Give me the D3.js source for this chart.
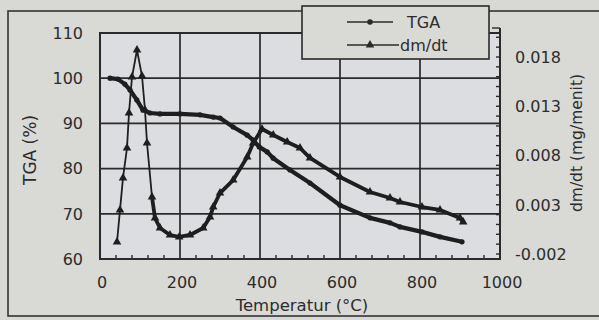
<!DOCTYPE html>
<html><head><meta charset="utf-8">
<script src="https://cdnjs.cloudflare.com/ajax/libs/d3/7.8.5/d3.min.js"></script>
<style>
html,body{margin:0;padding:0;background:#d8d8d5;}
svg{display:block;}
text{font-family:"DejaVu Sans",sans-serif;fill:#2c2c2c;}
</style></head>
<body>
<svg id="c" width="599" height="320"></svg>
<script>
// ---- data ----
const tgaTemp = [25,45,62,75,92,107,125,150,200,250,283,300,333,368,383,398,418,433,475,525,600,675,725,750,805,850,905];
const tgaVal  = [100,99.8,98.7,97.4,95.2,93,92.3,92.1,92.1,91.9,91.4,91.2,89.2,87.4,86.3,84.8,83.7,82.3,79.7,76.8,71.9,69.1,68.0,67.1,66.0,64.9,63.8];
const dmTemp = [42.5,50,57.5,67.5,72.5,80,92.5,105,112.5,117.5,130,137.5,150,175,198,225,258,275,283,300,333,368,383,405,433,468,500,525,600,675,725,750,805,850,900,908];
const dmVal  = [-0.00078,0.00247,0.00572,0.00876,0.01231,0.01597,0.01871,0.01607,0.01262,0.00927,0.00379,0.00165,0.00064,-0.00007,-0.00027,-0.00007,0.00064,0.00176,0.00277,0.00419,0.00551,0.00785,0.00927,0.01069,0.01008,0.00937,0.00876,0.00775,0.00582,0.00429,0.00369,0.00328,0.00277,0.00247,0.00165,0.00125];
const xTicks = [0,200,400,600,800,1000];
const xTickLabels = ["0","200","400","600","800","1000"];
const yLeftTicks = [60,70,80,90,100,110];
const yLeftLabels = ["60","70","80","90","100","110"];
const yRightTicks = [-0.002,0.003,0.008,0.013,0.018];
const yRightLabels = ["-0.002","0.003","0.008","0.013","0.018"];
const seriesNames = ["TGA","dm/dt"];

const svg = d3.select("#c");
const ink = "#2a2a2a";
const x = d3.scaleLinear([0,1000],[100,500]);
const yL = d3.scaleLinear([60,110],[259,33]);
const yR = d3.scaleLinear([-0.002,0.018],[254,57]);

// outer frame
svg.append("rect").attr("x",8).attr("y",11).attr("width",640).attr("height",305)
  .attr("fill","#d9d9d6").attr("stroke","#333").attr("stroke-width",1.6);

// plot area
svg.append("rect").attr("x",x(0)).attr("y",yL(110)).attr("width",x(1000)-x(0)).attr("height",yL(60)-yL(110))
  .attr("fill","#dcdde0");

// gridlines
const g = svg.append("g").attr("stroke",ink).attr("stroke-width",1.7);
xTicks.filter(t=>t>0&&t<1000).forEach(t=>g.append("line").attr("x1",x(t)).attr("x2",x(t)).attr("y1",yL(110)).attr("y2",yL(60)));
yLeftTicks.filter(t=>t>60&&t<110).forEach(t=>g.append("line").attr("x1",x(0)).attr("x2",x(1000)).attr("y1",yL(t)).attr("y2",yL(t)));

// minor ticks bottom (inward)
const mt = svg.append("g").attr("stroke",ink).attr("stroke-width",1.4);
d3.range(40,1000,40).filter(t=>t%200!==0).forEach(t=>mt.append("line").attr("x1",x(t)).attr("x2",x(t)).attr("y1",yL(60)).attr("y2",yL(60)-4));
// minor ticks right (inward)
d3.range(-2,21,1).map(v=>v/1000).forEach(v=>{ if(yR(v)>yL(110)-4) mt.append("line").attr("x1",x(1000)).attr("x2",x(1000)-4).attr("y1",yR(v)).attr("y2",yR(v)); });

// plot border
svg.append("rect").attr("x",x(0)).attr("y",yL(110)).attr("width",x(1000)-x(0)).attr("height",yL(60)-yL(110))
  .attr("fill","none").attr("stroke",ink).attr("stroke-width",2);
svg.append("line").attr("x1",x(1000)).attr("x2",x(1000)).attr("y1",28).attr("y2",yL(60)).attr("stroke",ink).attr("stroke-width",2);
svg.append("line").attr("x1",x(1000)-8).attr("x2",x(1000)).attr("y1",28).attr("y2",28).attr("stroke",ink).attr("stroke-width",1.4);

// axes labels
yLeftTicks.forEach((t,i)=>svg.append("text").attr("x",83).attr("y",yL(t)).attr("dy","0.36em").attr("text-anchor","end").attr("font-size",16).text(yLeftLabels[i]));
xTicks.forEach((t,i)=>svg.append("text").attr("x",x(t)+2).attr("y",288).attr("text-anchor","middle").attr("font-size",16).text(xTickLabels[i]));
yRightTicks.forEach((t,i)=>svg.append("text").attr("x",515).attr("y",yR(t)).attr("dy","0.36em").attr("text-anchor","start").attr("font-size",16).text(yRightLabels[i]));

svg.append("text").attr("x",302).attr("y",311).attr("text-anchor","middle").attr("font-size",16.5).text("Temperatur (°C)");
svg.append("text").attr("transform","translate(36,150) rotate(-90)").attr("text-anchor","middle").attr("font-size",17).text("TGA (%)");
svg.append("text").attr("transform","translate(582,143) rotate(-90)").attr("text-anchor","middle").attr("font-size",15.5).text("dm/dt (mg/menit)");

// series
const tga = tgaTemp.map((t,i)=>[t,tgaVal[i]]);
const dm = dmTemp.map((t,i)=>[t,dmVal[i]]);
const lineL = d3.line().x(d=>x(d[0])).y(d=>yL(d[1])).curve(d3.curveLinear);
const lineR = d3.line().x(d=>x(d[0])).y(d=>yR(d[1])).curve(d3.curveLinear);

svg.append("path").attr("d",lineR(dm)).attr("fill","none").attr("stroke","#1e1e1e").attr("stroke-width",1.8);
svg.append("path").attr("d",lineR(dm.filter(d=>d[0]>=130))).attr("fill","none").attr("stroke","#1e1e1e").attr("stroke-width",3.8).attr("stroke-linejoin","round");
const tri = d3.symbol(d3.symbolTriangle).size(32);
svg.append("g").selectAll("path").data(dm).join("path")
  .attr("d",tri).attr("transform",d=>`translate(${x(d[0])},${yR(d[1])})`).attr("fill","#1e1e1e");

svg.append("path").attr("d",lineL(tga)).attr("fill","none").attr("stroke","#1e1e1e").attr("stroke-width",4.2).attr("stroke-linejoin","round").attr("stroke-linecap","round");
svg.append("g").selectAll("circle").data(tga).join("circle")
  .attr("cx",d=>x(d[0])).attr("cy",d=>yL(d[1])).attr("r",2.6).attr("fill","#1e1e1e");

// legend
const lg = svg.append("g");
lg.append("rect").attr("x",302).attr("y",6).attr("width",187).attr("height",53).attr("fill","#d9d9d6").attr("stroke",ink).attr("stroke-width",1.6);
lg.append("line").attr("x1",347).attr("x2",393).attr("y1",22).attr("y2",22).attr("stroke",ink).attr("stroke-width",1.6);
lg.append("circle").attr("cx",370).attr("cy",22).attr("r",2.8).attr("fill",ink);
lg.append("text").attr("x",407).attr("y",28).attr("font-size",16).text(seriesNames[0]);
lg.append("line").attr("x1",347).attr("x2",399).attr("y1",45).attr("y2",45).attr("stroke",ink).attr("stroke-width",1.6);
lg.append("path").attr("d",tri).attr("transform","translate(370,45)").attr("fill",ink);
lg.append("text").attr("x",400).attr("y",51).attr("font-size",16).text(seriesNames[1]);
</script>
</body></html>
